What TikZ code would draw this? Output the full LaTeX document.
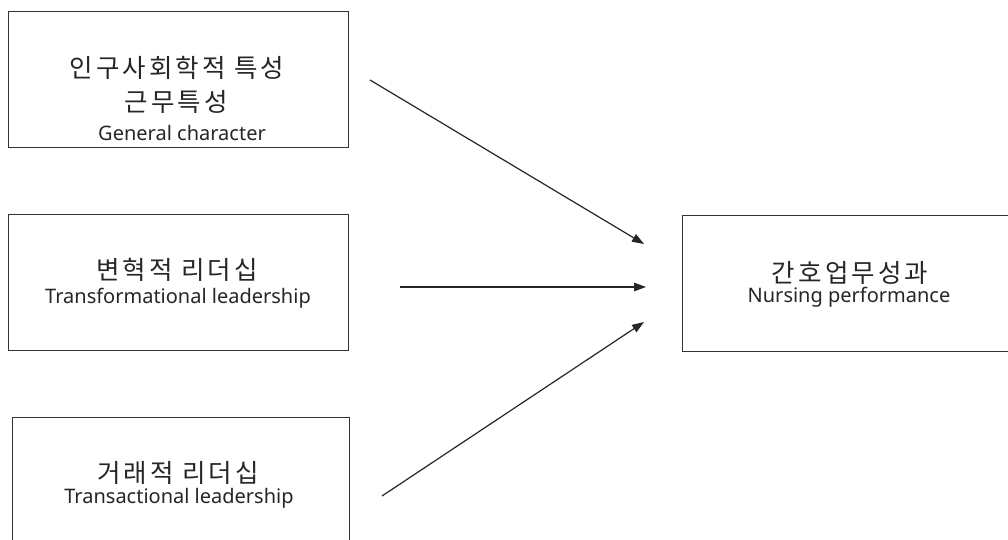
\documentclass[tikz,border=0pt]{standalone}
\usepackage{fontspec}
\setmainfont{Noto Sans}
\newfontfamily\kr[LetterSpace=12]{Noto Sans CJK KR}
\usetikzlibrary{arrows.meta}
\begin{document}
\begin{tikzpicture}[x=1pt,y=-1pt,
  box/.style={draw=black!80, line width=1.1pt, rectangle, inner sep=0pt, anchor=north west},
  kt/.style={font=\kr\fontsize{25.5}{27}\selectfont, text=black!85, inner sep=0pt},
  et/.style={font=\fontsize{20}{22}\selectfont, text=black!85, inner sep=0pt},
  arr/.style={draw=black!85, line width=1.2pt, -{Triangle[length=12pt,width=8.5pt]}}]
\useasboundingbox (0,0) rectangle (1008,540);
\fill[white] (0,0) rectangle (1008,540);
\clip (0,0) rectangle (1008,540);
\node[box, minimum width=340pt, minimum height=136pt] (b1) at (8,11) {};
\node[box, minimum width=340pt, minimum height=136pt] (b2) at (8,214) {};
\node[box, minimum width=337pt, minimum height=160pt] (b3) at (12,417) {};
\node[box, minimum width=360pt, minimum height=136pt] (b4) at (682,215) {};
\node[kt] (t1a) at (177,68) {인구사회학적 특성};
\node[kt] (t1b) at (176,102) {근무특성};
\node[et] (t1c) at (182,133) {General character};
\node[kt] (t2a) at (177,270) {변혁적 리더십};
\node[et] (t2b) at (178,298) {Transformational leadership};
\node[kt] (t3a) at (178,473) {거래적 리더십};
\node[et] (t3b) at (179,498) {Transactional leadership};
\node[kt] (t4a) at (850,273) {간호업무성과};
\node[et] (t4b) at (849,297) {Nursing performance};
\coordinate (s1) at (370,80);
\coordinate (e1) at (644,244);
\coordinate (s2) at (400,287);
\coordinate (e2) at (646,287);
\coordinate (s3) at (382,496);
\coordinate (e3) at (644,322);
\draw[arr] (s1) -- (e1);
\draw[arr] (s2) -- (e2);
\draw[arr] (s3) -- (e3);
\end{tikzpicture}
\end{document}
